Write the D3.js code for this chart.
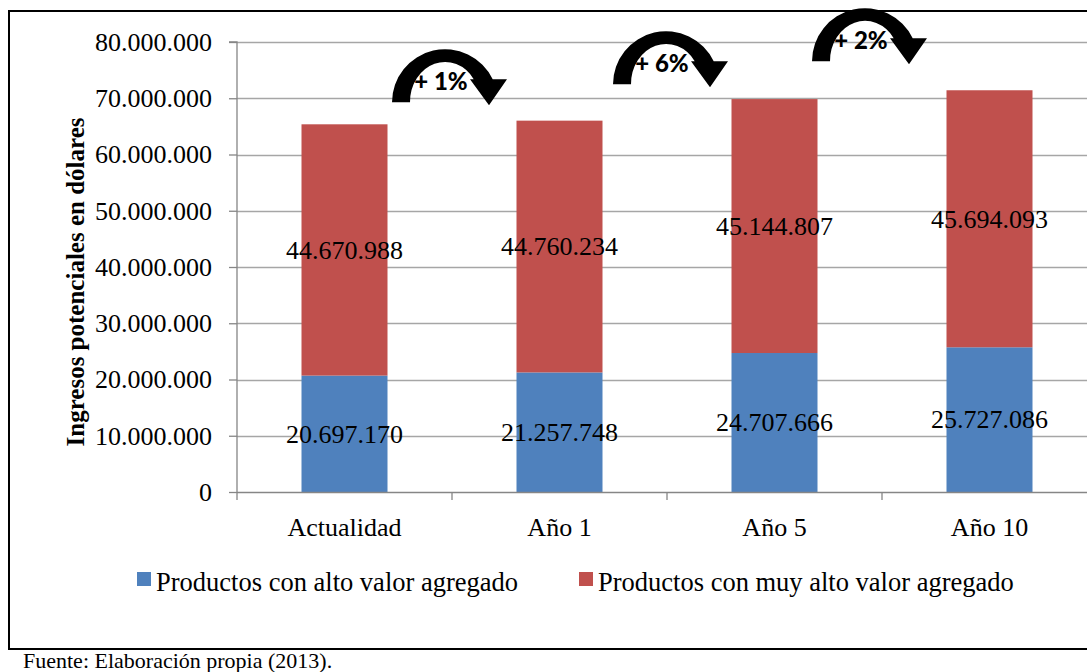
<!DOCTYPE html>
<html>
<head>
<meta charset="utf-8">
<script src="https://cdn.jsdelivr.net/npm/d3@7"></script>
<style>
  html, body { margin: 0; padding: 0; background: #fff; }
  svg { display: block; }
</style>
</head>
<body>
<svg id="chart" width="1087" height="672"></svg>
<script>
// Categories and series values
const categories = ["Actualidad", "Año 1", "Año 5", "Año 10"];
const altoValor = [20697170, 21257748, 24707666, 25727086];
const muyAltoValor = [44670988, 44760234, 45144807, 45694093];
const seriesNames = ["Productos con alto valor agregado", "Productos con muy alto valor agregado"];
const yTicks = [0, 10000000, 20000000, 30000000, 40000000, 50000000, 60000000, 70000000, 80000000];
const growthLabels = ["+ 1%", "+ 6%", "+ 2%"];
const growthLevels = [69300000, 72500000, 76600000];

const colors = ["#4F81BD", "#C0504D"];
const serif = "'Liberation Serif', 'Times New Roman', serif";

const svg = d3.select("#chart");

// Outer frame
svg.append("rect")
  .attr("x", 9).attr("y", 11)
  .attr("width", 1100).attr("height", 638)
  .attr("fill", "none").attr("stroke", "#000").attr("stroke-width", 2);

const plot = { left: 237, right: 1097, top: 42, bottom: 492 };

const x = d3.scaleBand()
  .domain(categories)
  .range([plot.left, plot.right])
  .paddingInner(0.6)
  .paddingOuter(0.3);

const y = d3.scaleLinear()
  .domain([0, 80000000])
  .range([plot.bottom, plot.top]);

const fmt = v => d3.format(",")(v).replace(/,/g, ".");

// Gridlines
svg.append("g")
  .selectAll("line")
  .data(yTicks.filter(t => t > 0))
  .join("line")
  .attr("x1", plot.left).attr("x2", plot.right)
  .attr("y1", d => Math.round(y(d)) + 0.5).attr("y2", d => Math.round(y(d)) + 0.5)
  .attr("stroke", "#a6a6a6").attr("stroke-width", 1.3);

// Stacked bars
const rows = categories.map((c, i) => ({ cat: c, a: altoValor[i], b: muyAltoValor[i] }));
const stack = d3.stack().keys(["a", "b"])(rows);

const layers = svg.append("g")
  .selectAll("g")
  .data(stack)
  .join("g")
  .attr("fill", (d, i) => colors[i]);

layers.selectAll("rect")
  .data(d => d)
  .join("rect")
  .attr("x", d => x(d.data.cat))
  .attr("width", x.bandwidth())
  .attr("y", d => y(d[1]))
  .attr("height", d => y(d[0]) - y(d[1]));

// Y axis
const yAxis = d3.axisLeft(y)
  .tickValues(yTicks)
  .tickSize(8)
  .tickPadding(17)
  .tickFormat(fmt);

const gy = svg.append("g")
  .attr("transform", `translate(${plot.left},0)`)
  .call(yAxis);
gy.select(".domain").attr("stroke", "#868686").attr("stroke-width", 1.3).attr("d", `M-8,${plot.top}H0V${plot.bottom}`);
gy.selectAll(".tick line").attr("stroke", "#868686").attr("stroke-width", 1.3);
gy.selectAll(".tick text")
  .attr("font-family", serif).attr("font-size", 26).attr("fill", "#000");

// X axis (tick marks on category boundaries)
const step = x.step();
svg.append("line")
  .attr("x1", plot.left).attr("x2", plot.right)
  .attr("y1", plot.bottom + 0.5).attr("y2", plot.bottom + 0.5)
  .attr("stroke", "#868686").attr("stroke-width", 1.3);
svg.append("g")
  .selectAll("line")
  .data(d3.range(categories.length + 1))
  .join("line")
  .attr("x1", i => plot.left + i * step).attr("x2", i => plot.left + i * step)
  .attr("y1", plot.bottom).attr("y2", plot.bottom + 8)
  .attr("stroke", "#868686").attr("stroke-width", 1.3);

svg.append("g")
  .selectAll("text")
  .data(categories)
  .join("text")
  .attr("x", d => x(d) + x.bandwidth() / 2)
  .attr("y", 536)
  .attr("text-anchor", "middle")
  .attr("font-family", serif).attr("font-size", 26)
  .text(d => d);

// Value labels centred in each segment
layers.selectAll("text")
  .data(d => d)
  .join("text")
  .attr("x", d => x(d.data.cat) + x.bandwidth() / 2)
  .attr("y", d => y((d[0] + d[1]) / 2))
  .attr("dy", "0.34em")
  .attr("text-anchor", "middle")
  .attr("fill", "#000")
  .attr("font-family", serif).attr("font-size", 26)
  .text(d => fmt(d[1] - d[0]));

// Y axis title
svg.append("text")
  .attr("transform", "translate(75,282) rotate(-90)")
  .attr("text-anchor", "middle")
  .attr("dominant-baseline", "central")
  .attr("font-family", serif).attr("font-size", 25).attr("font-weight", "bold")
  .text("Ingresos potenciales en dólares");

// Growth arrows between consecutive periods
const arrowPath = "M-53,0 A53,53 0 0 1 47.7,-23 L62,-23 L44,3 L25,-23 L28.7,-23 A35,40.3 0 0 0 -35,0 Z";
const arrowShift = [-7, -1, -17];
const arrows = svg.append("g")
  .selectAll("g")
  .data(growthLabels)
  .join("g")
  .attr("transform", (d, i) => {
    const cx = (x(categories[i]) + x(categories[i + 1])) / 2 + x.bandwidth() / 2 + arrowShift[i];
    return `translate(${cx},${y(growthLevels[i])})`;
  });
arrows.append("path").attr("d", arrowPath).attr("fill", "#000");
arrows.append("text")
  .attr("x", -4).attr("y", -21)
  .attr("dy", "0.36em")
  .attr("text-anchor", "middle")
  .attr("font-family", "Lato, 'Open Sans', sans-serif")
  .attr("font-weight", "900").attr("font-size", 24)
  .attr("fill", "#000")
  .text(d => d);

// Legend
const legendX = [137, 579];
const legend = svg.append("g")
  .selectAll("g")
  .data(seriesNames)
  .join("g")
  .attr("transform", (d, i) => `translate(${legendX[i]},572)`);
legend.append("rect")
  .attr("width", 14).attr("height", 14)
  .attr("fill", (d, i) => colors[i]);
legend.append("text")
  .attr("x", 19).attr("y", 19)
  .attr("font-family", serif).attr("font-size", 26.5)
  .text(d => d);

// Source note
svg.append("text")
  .attr("x", 23).attr("y", 668)
  .attr("font-family", serif).attr("font-size", 22)
  .text("Fuente: Elaboración propia (2013).");
</script>
</body>
</html>
